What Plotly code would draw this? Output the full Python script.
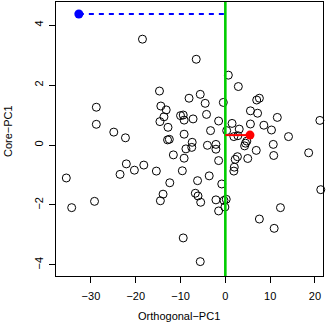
import plotly.graph_objects as go

# Orthogonal-PC1 (x) and Core-PC1 (y) of the open-circle points
orth_pc1 = [-18.5, -6.5, 0.67, 2.9, -14.7, -5.6, -8.1, 7.0, 7.6, -4.5,
            -0.45, -28.8, -14.4, -13.2, 5.6, 7.2, -4.2, -10.0, -9.4, -13.7,
            11.6, -9.2, -7.2, 21.1, -1.5, -14.6, 1.5, 5.6, -28.8, 8.6,
            -12.8, 3.1, 10.3, 0.3, -3.3, -24.9, -9.2, 1.9, 2.8, 14.1,
            -22.3, -12.9, -12.5, 4.8, 4.5, 4.3, -7.4, -7.5, -4.0, -2.1,
            -2.1, 10.7, -8.8, 6.9, 18.6, -11.6, 10.8, 2.7, 2.2, 5.0,
            -9.2, -1.5, 2.0, 1.9, -18.2, -22.1, -20.3, -15.4, -9.6, -23.5,
            -35.5, -3.6, -6.2, -12.4, -0.8, -13.9, -6.7, -6.1, 21.3, -14.5,
            -5.5, -2.1, 0.2, -0.3, -0.1, -29.2, -34.3, -1.5, 12.3, 7.6,
            10.9, -9.4, -5.6]
core_pc1 = [3.53, 2.86, 2.33, 1.95, 1.80, 1.69, 1.56, 1.50, 1.56, 1.39,
            1.42, 1.26, 1.30, 1.17, 1.14, 1.06, 1.02, 0.98, 1.00, 0.94,
            0.92, 0.83, 0.87, 0.82, 0.80, 0.78, 0.72, 0.70, 0.69, 0.66,
            0.59, 0.53, 0.50, 0.48, 0.48, 0.43, 0.36, 0.28, 0.31, 0.28,
            0.24, 0.17, 0.19, 0.13, 0.06, -0.03, 0.09, -0.08, -0.01, 0.02,
            -0.14, 0.02, -0.13, -0.18, -0.26, -0.33, -0.35, -0.39, -0.48, -0.45,
            -0.44, -0.52, -0.74, -0.87, -0.67, -0.63, -0.84, -0.87, -0.86, -0.98,
            -1.10, -1.03, -1.19, -1.26, -1.30, -1.64, -1.61, -1.70, -1.49, -1.86,
            -1.91, -1.83, -1.81, -1.85, -2.07, -1.88, -2.09, -2.20, -2.09, -2.47,
            -2.78, -3.10, -3.89]

# highlighted points
blue_pt = (-32.7, 4.37)
red_pt = (5.5, 0.33)
ref_x = 0.0

x_range = [-37.8, 21.8]
y_range = [-4.37, 4.77]
x_ticks = [-30, -20, -10, 0, 10, 20]
y_ticks = [-4, -2, 0, 2, 4]
x_title = "Orthogonal\u2212PC1"
y_title = "Core\u2212PC1"


def lab(v):
    return str(v).replace("-", "\u2212")


fig = go.Figure()
fig.add_trace(go.Scatter(
    x=orth_pc1, y=core_pc1, mode="markers",
    marker=dict(symbol="circle-open", size=8, color="black",
                line=dict(width=1, color="black")),
    showlegend=False, cliponaxis=False))
fig.add_trace(go.Scatter(
    x=[ref_x, ref_x], y=y_range, mode="lines",
    line=dict(color="#00CD00", width=2.6), showlegend=False))
fig.add_trace(go.Scatter(
    x=[blue_pt[0], ref_x], y=[blue_pt[1], blue_pt[1]], mode="lines",
    line=dict(color="#0000FF", width=2, dash="5px,5px"), showlegend=False))
fig.add_trace(go.Scatter(
    x=[ref_x, red_pt[0]], y=[red_pt[1], red_pt[1]], mode="lines",
    line=dict(color="#FF0000", width=2), showlegend=False))
fig.add_trace(go.Scatter(
    x=[red_pt[0]], y=[red_pt[1]], mode="markers",
    marker=dict(symbol="circle", size=9, color="#FF0000"), showlegend=False))
fig.add_trace(go.Scatter(
    x=[blue_pt[0]], y=[blue_pt[1]], mode="markers",
    marker=dict(symbol="circle", size=9, color="#0000FF"), showlegend=False))

font = dict(family="Liberation Sans, Arial, sans-serif", size=11, color="black")
axis_common = dict(showgrid=False, zeroline=False, showline=True, mirror=True,
                   linecolor="black", linewidth=1, ticks="outside", ticklen=6,
                   tickcolor="black", tickfont=font, automargin=False)
fig.update_layout(
    width=333, height=333,
    margin=dict(l=56, r=10, t=2, b=57, autoexpand=False),
    paper_bgcolor="white", plot_bgcolor="white",
    font=font,
    xaxis=dict(range=x_range, tickvals=x_ticks, ticktext=[lab(v) for v in x_ticks],
               ticklabelstandoff=4, **axis_common),
    yaxis=dict(range=y_range, tickvals=y_ticks, ticktext=[lab(v) for v in y_ticks],
               tickangle=-90, ticklabelstandoff=2, **axis_common),
    annotations=[
        dict(text=x_title, xref="paper", yref="paper", x=0.4607, y=-0.146,
             xanchor="center", yanchor="middle", showarrow=False, font=font),
        dict(text=y_title, xref="paper", yref="paper", x=-0.18, y=0.529,
             xanchor="center", yanchor="middle", textangle=-90,
             showarrow=False, font=font),
    ],
)
fig.write_html("out.html",
               config={"displayModeBar": False},
               post_script="document.body.style.margin='0';"
                           "document.body.style.padding='0';"
                           "document.documentElement.style.overflow='hidden';")
